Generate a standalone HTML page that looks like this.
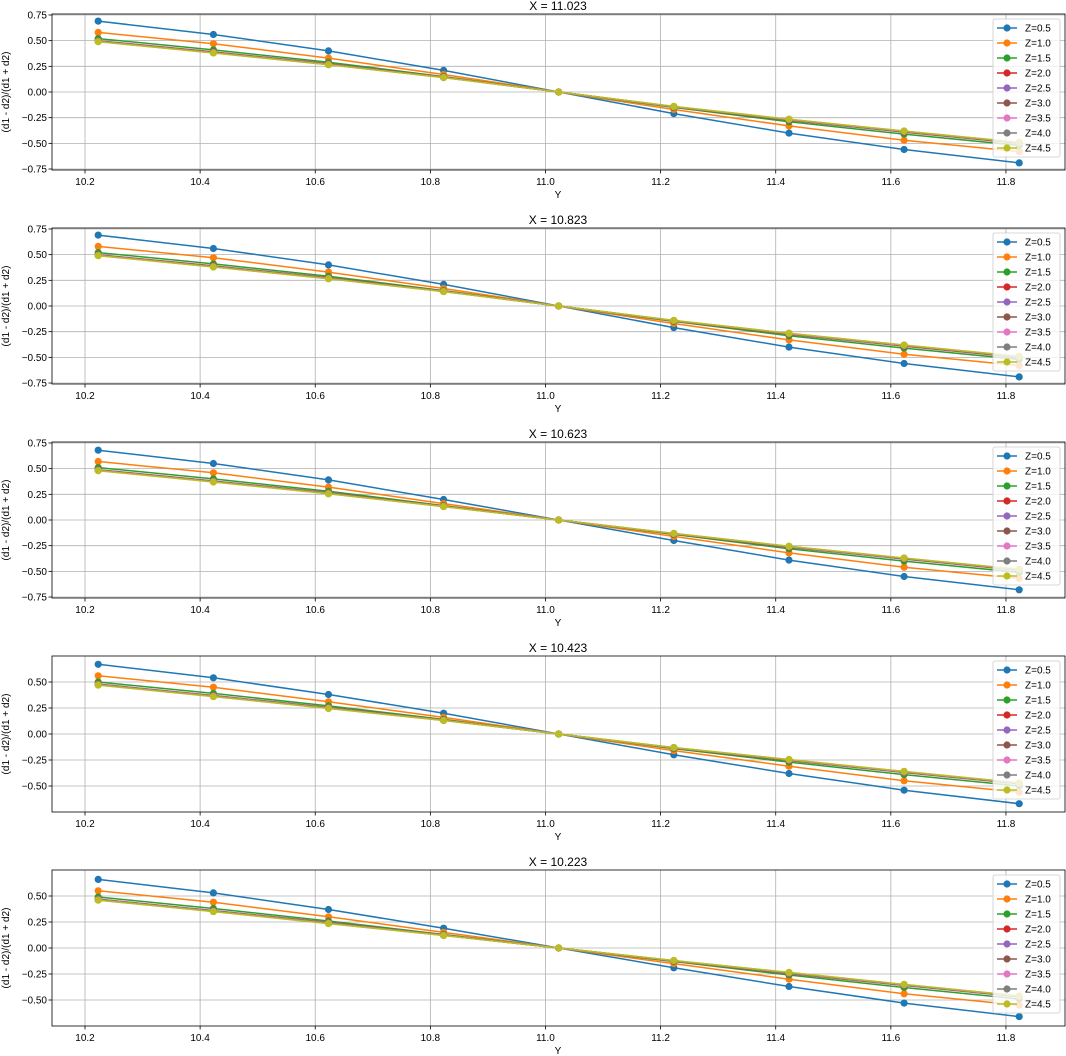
<!DOCTYPE html>
<html><head><meta charset="utf-8"><style>
body{margin:0;background:#fff}
svg{display:block;font-family:"Liberation Sans","DejaVu Sans",sans-serif}
</style></head><body>
<svg id="s" width="1066" height="1056" xmlns="http://www.w3.org/2000/svg"></svg>
<script>
const s=document.getElementById('s');
let h='';
const L=52,R=1065,xs=v=>85+(v-10.2)*575.6;
const cols=['#1f77b4','#ff7f0e','#2ca02c','#d62728','#9467bd','#8c564b','#e377c2','#7f7f7f','#bcbd22'];
const Xs=['11.023','10.823','10.623','10.423','10.223'];
const amps=[[0.69,0.56,0.40,0.21],[0.69,0.56,0.40,0.21],[0.68,0.55,0.39,0.20],[0.67,0.54,0.38,0.20],[0.66,0.53,0.37,0.19]];
for(let p=0;p<5;p++){
  const T=14+214*p,B=170+214*p,C=(T+B)/2;
  const k=p<3?102.7:104;
  const ys=v=>C-v*k;
  for(let t=10.2;t<11.85;t+=0.2){const x=xs(t);h+=`<line x1="${x}" y1="${T}" x2="${x}" y2="${B}" stroke="#b0b0b0" stroke-width="0.8"/>`;
    h+=`<line x1="${x}" y1="${B}" x2="${x}" y2="${B+3.5}" stroke="#000" stroke-width="0.8"/>`;
    h+=`<text x="${x}" y="${B+15}" font-size="10" text-anchor="middle">${t.toFixed(1)}</text>`;}
  const yt=p<3?[0.75,0.5,0.25,0,-0.25,-0.5,-0.75]:[0.5,0.25,0,-0.25,-0.5];
  for(const t of yt){const y=ys(t);h+=`<line x1="${L}" y1="${y}" x2="${R}" y2="${y}" stroke="#b0b0b0" stroke-width="0.8"/>`;
    h+=`<line x1="${L-3.5}" y1="${y}" x2="${L}" y2="${y}" stroke="#000" stroke-width="0.8"/>`;
    h+=`<text x="${L-5}" y="${y+3.5}" font-size="10" text-anchor="end">${t.toFixed(2).replace('-','\u2212')}</text>`;}
  for(let z=0;z<9;z++){
    const a=amps[p];
    let base;
    if(z==0)base=a;
    else if(z==1)base=[a[0]-0.11,a[1]-0.09,a[2]-0.07,a[3]-0.04];
    else if(z==2)base=[a[0]-0.17,a[1]-0.15,a[2]-0.11,a[3]-0.06];
    else {const d=(z-3)*0.002;base=[a[0]-0.19-d,a[1]-0.17-d,a[2]-0.125-d,a[3]-0.065-d*0.5];}
    const vals=[...base,0,...base.slice().reverse().map(v=>-v)];
    let pts=vals.map((v,i)=>`${xs(10.223+0.2*i).toFixed(1)},${ys(v).toFixed(1)}`);
    h+=`<polyline points="${pts.join(' ')}" fill="none" stroke="${cols[z]}" stroke-width="1.5"/>`;
    vals.forEach((v,i)=>{h+=`<circle cx="${xs(10.223+0.2*i).toFixed(1)}" cy="${ys(v).toFixed(1)}" r="3.6" fill="${cols[z]}"/>`;});
  }
  h+=`<rect x="${L}" y="${T}" width="${R-L}" height="${B-T}" fill="none" stroke="#000" stroke-width="0.8"/>`;
  h+=`<text x="558" y="${T-4}" font-size="12" text-anchor="middle">X = ${Xs[p]}</text>`;
  h+=`<text x="558" y="${B+28}" font-size="10" text-anchor="middle">Y</text>`;
  h+=`<text transform="translate(9,${C}) rotate(-90)" font-size="10" text-anchor="middle">(d1 - d2)/(d1 + d2)</text>`;
  const lx=993,ly=T+5;
  h+=`<rect x="${lx}" y="${ly}" width="67" height="138" fill="#fff" fill-opacity="0.8" stroke="#ccc" stroke-width="0.8" rx="2"/>`;
  for(let z=0;z<9;z++){const y=ly+9+z*15;
    h+=`<line x1="${lx+4}" y1="${y}" x2="${lx+24}" y2="${y}" stroke="${cols[z]}" stroke-width="1.5"/><circle cx="${lx+14}" cy="${y}" r="3.6" fill="${cols[z]}"/>`;
    h+=`<text x="${lx+32}" y="${y+3.5}" font-size="10">Z=${(0.5+0.5*z).toFixed(1)}</text>`;}
}
s.innerHTML=h;
</script>
</body></html>
